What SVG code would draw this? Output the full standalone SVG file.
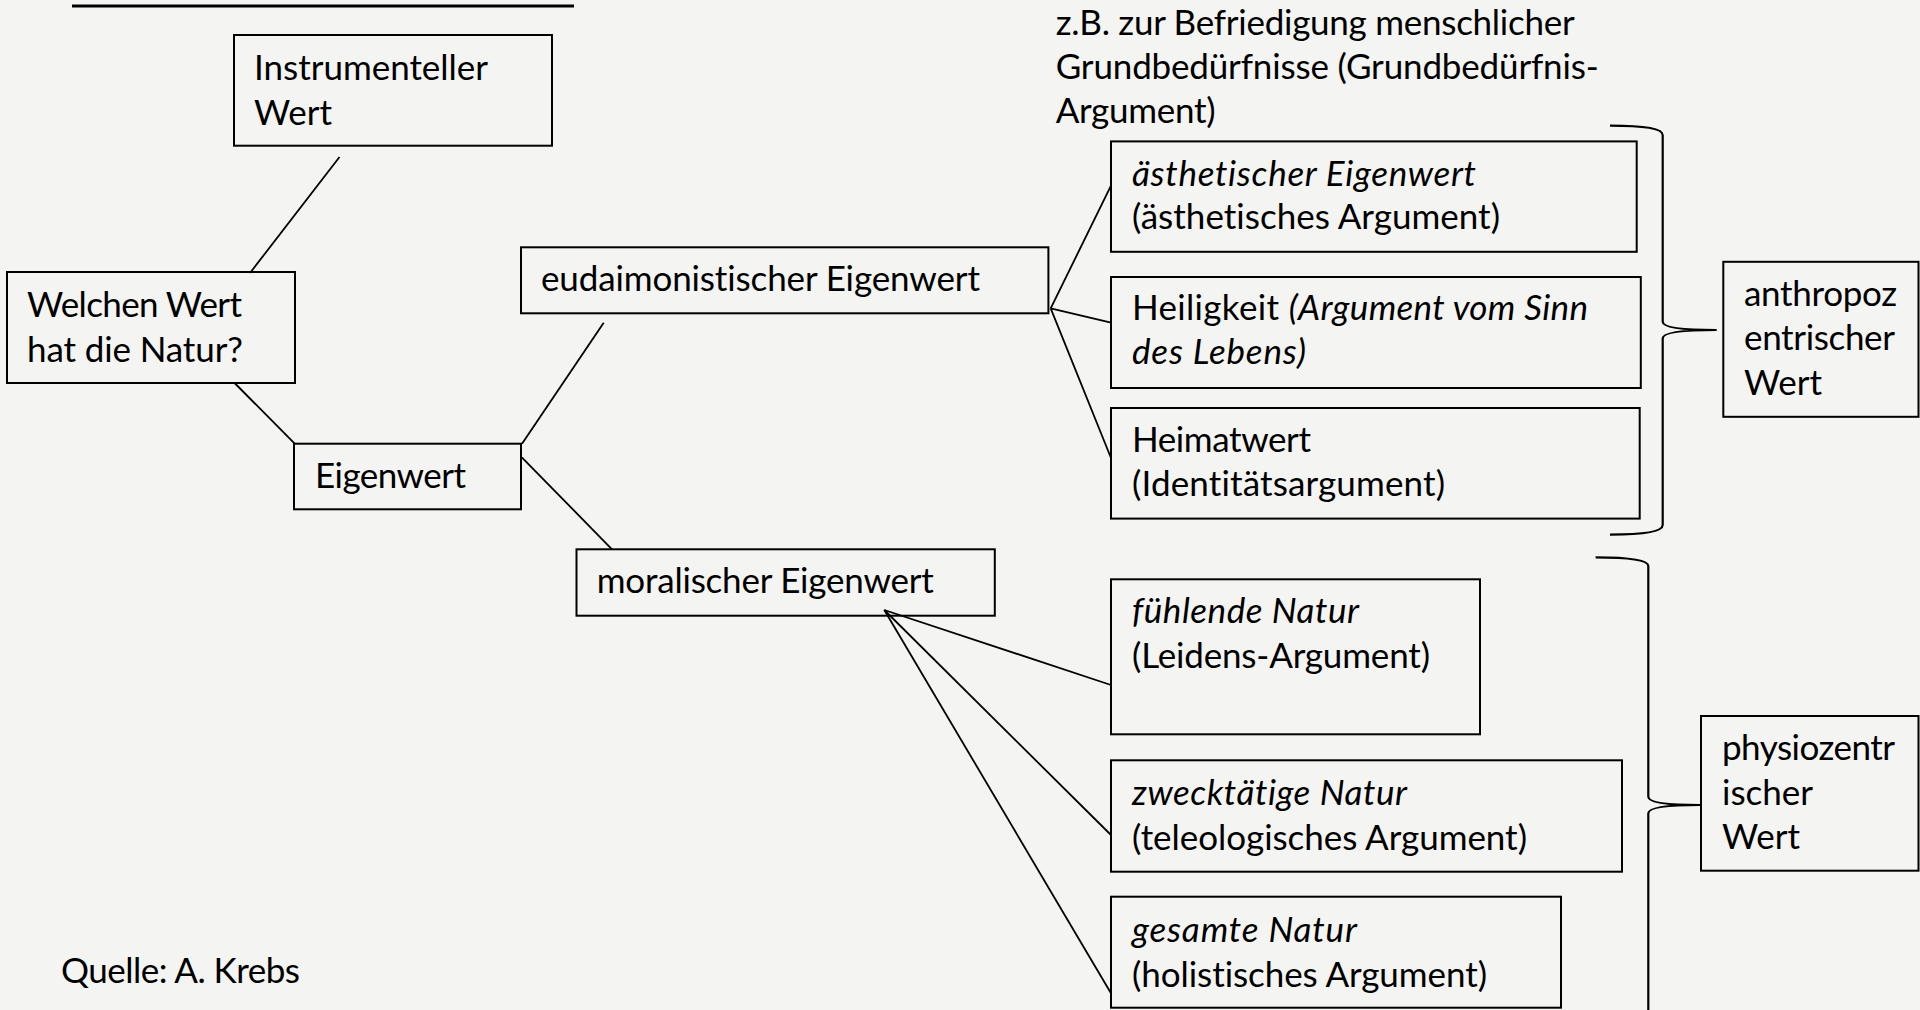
<svg xmlns="http://www.w3.org/2000/svg" width="1920" height="1010" viewBox="0 0 1920 1010">
<style>
.bg{fill:#f4f4f2}
.box{fill:none;stroke:#000;stroke-width:2}
.ln{fill:none;stroke:#000;stroke-width:1.8}
.br{fill:none;stroke:#000;stroke-width:2.2}
text{font-family:Lato,"Open Sans","Liberation Sans",sans-serif;font-size:35px;fill:#000;font-variant-ligatures:none}
.i{font-style:italic}
</style>
<rect class="bg" x="0" y="0" width="1920" height="1010"/>
<line x1="72" y1="6" x2="574" y2="6" stroke="#000" stroke-width="3"/>
<g id="connectors">
<line class="ln" x1="339.5" y1="157" x2="250" y2="273"/>
<line class="ln" x1="234.6" y1="383" x2="294.7" y2="443.7"/>
<line class="ln" x1="522" y1="443.7" x2="603.7" y2="322.7"/>
<line class="ln" x1="521.8" y1="457.3" x2="612" y2="549.3"/>
<line class="ln" x1="1050.7" y1="308.3" x2="1111" y2="185.7"/>
<line class="ln" x1="1050.7" y1="308.3" x2="1111" y2="322.7"/>
<line class="ln" x1="1050.7" y1="308.3" x2="1111" y2="458"/>
<line class="ln" x1="884.3" y1="610" x2="1111" y2="685"/>
<line class="ln" x1="884.3" y1="610" x2="1111" y2="835"/>
<line class="ln" x1="884.3" y1="610" x2="1111" y2="993.3"/>
<path class="br" d="M1610,125.7 Q1662.7,125.7 1662.7,135 L1662.7,321.7 Q1662.7,330 1716.7,330 Q1662.7,330 1662.7,338.3 L1662.7,525 Q1662.7,534.6 1610,534.6"/>
<path class="br" d="M1595.6,557.3 Q1648.3,557.3 1648.3,566 L1648.3,796.7 Q1648.3,805 1700,805 Q1648.3,805 1648.3,813.3 L1648.3,1012"/>
</g>
<g id="node-instrumenteller">
<rect class="box" x="234" y="35" width="318" height="110.7"/>
<text x="254" y="80" textLength="234">Instrumenteller</text>
<text x="254" y="125">Wert</text>
</g>
<g id="node-welchen">
<rect class="box" x="7" y="272" width="288" height="111"/>
<text x="27" y="316.7" textLength="215">Welchen Wert</text>
<text x="27" y="361.7" textLength="216">hat die Natur?</text>
</g>
<g id="node-eigenwert">
<rect class="box" x="294" y="443.7" width="227" height="65.6"/>
<text x="315" y="488.3" textLength="151">Eigenwert</text>
</g>
<g id="node-eudaimon">
<rect class="box" x="521" y="247.3" width="527.4" height="66"/>
<text x="541" y="291" textLength="439">eudaimonistischer Eigenwert</text>
</g>
<g id="node-moralisch">
<rect class="box" x="576.5" y="549.3" width="418.3" height="66.4"/>
<text x="596.8" y="592.7" textLength="337">moralischer Eigenwert</text>
</g>
<g id="note-grundbeduerfnis">
<text x="1055.7" y="34.6" textLength="519">z.B. zur Befriedigung menschlicher</text>
<text x="1055.7" y="78.6" textLength="543">Grundbedürfnisse (Grundbedürfnis-</text>
<text x="1055.7" y="122.5" textLength="160">Argument)</text>
</g>
<g id="node-aesthetisch">
<rect class="box" x="1111" y="141.4" width="525.7" height="110.4"/>
<text x="1132" y="185.7" class="i" textLength="344">ästhetischer Eigenwert</text>
<text x="1132" y="228.6" textLength="368">(ästhetisches Argument)</text>
</g>
<g id="node-heiligkeit">
<rect class="box" x="1111" y="277" width="529.8" height="111"/>
<text x="1132" y="319.6" textLength="456">Heiligkeit <tspan class="i">(Argument vom Sinn</tspan></text>
<text x="1132" y="364.3" class="i" textLength="174">des Lebens)</text>
</g>
<g id="node-heimatwert">
<rect class="box" x="1111" y="408" width="528.7" height="110.6"/>
<text x="1132" y="451.8" textLength="179">Heimatwert</text>
<text x="1132" y="496.4" textLength="313">(Identitätsargument)</text>
</g>
<g id="node-anthropozentrisch">
<rect class="box" x="1723.3" y="261.8" width="195.2" height="155"/>
<text x="1744" y="306.4" textLength="153">anthropoz</text>
<text x="1744" y="350" textLength="151">entrischer</text>
<text x="1744" y="394.6">Wert</text>
</g>
<g id="node-fuehlend">
<rect class="box" x="1111" y="579.3" width="369" height="155"/>
<text x="1132" y="623.3" class="i" textLength="227">fühlende Natur</text>
<text x="1132" y="668.3" textLength="298">(Leidens-Argument)</text>
</g>
<g id="node-zwecktaetig">
<rect class="box" x="1111" y="760.3" width="511" height="111.4"/>
<text x="1132" y="805" class="i" textLength="275">zwecktätige Natur</text>
<text x="1132" y="850" textLength="395">(teleologisches Argument)</text>
</g>
<g id="node-gesamt">
<rect class="box" x="1111" y="896.7" width="450" height="111"/>
<text x="1132" y="941.7" class="i" textLength="225">gesamte Natur</text>
<text x="1132" y="986.7" textLength="355">(holistisches Argument)</text>
</g>
<g id="node-physiozentrisch">
<rect class="box" x="1701" y="716" width="217.5" height="154.7"/>
<text x="1722" y="760" textLength="173">physiozentr</text>
<text x="1722" y="805">ischer</text>
<text x="1722" y="849.3">Wert</text>
</g>
<g id="source">
<text x="61" y="983.3" textLength="239">Quelle: A. Krebs</text>
</g>
</svg>
